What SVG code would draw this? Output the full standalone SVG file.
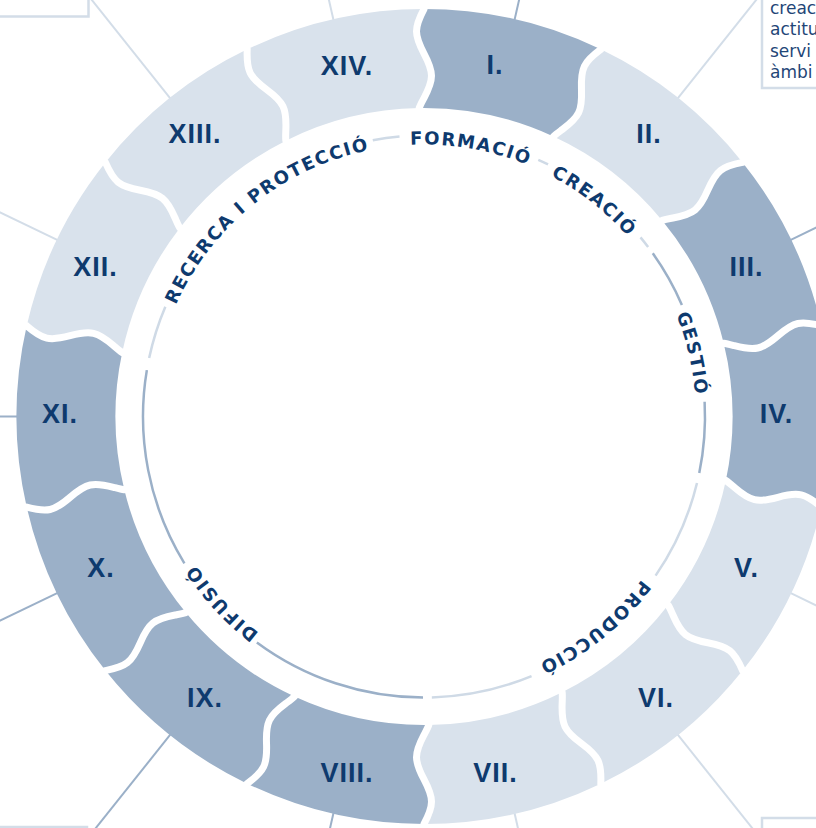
<svg xmlns="http://www.w3.org/2000/svg" width="816" height="828" viewBox="0 0 816 828">
<style>
.dk{fill:#9BB0C8}
.lt{fill:#D9E2EC}
.num{font-family:"Liberation Sans",Arial,sans-serif;font-weight:700;font-size:27px;fill:#0E3A6E;text-anchor:middle;letter-spacing:1px}
.arc{font-family:"DejaVu Sans","Liberation Sans",sans-serif;font-weight:700;font-size:18px;fill:#0E3A6E;letter-spacing:1.6px;text-anchor:middle}
.ldk{stroke:#9BB0C8;stroke-width:2;fill:none}
.llt{stroke:#D3DDE8;stroke-width:2;fill:none}
.gap{stroke:#FFFFFF;stroke-width:7;fill:none}
.tdk{stroke:#9BB0C8;stroke-width:2.5;fill:none}
.tlt{stroke:#CFDAE6;stroke-width:2.5;fill:none}
.box{stroke:#D3DDE8;stroke-width:2.5;fill:none}
.btxt{font-family:"DejaVu Sans","Liberation Sans",sans-serif;font-size:17px;fill:#1F4677}
</style>
<defs>
<path id="seg" d="M0,-407.5 A407.5,407.5 0 0 1 176.81,-367.15 C159.60,-354.46 156.67,-348.37 157.48,-327.01 C158.29,-305.64 155.36,-299.56 138.15,-286.87 C135.14,-284.65 132.04,-282.48 129.53,-280.03 A308.5,308.5 0 0 0 -4.8,-308.5 C-3.6,-311.8 -1.75,-315.1 0,-318.4 C10,-337.3 10,-344.05 0,-362.95 C-10,-381.85 -10,-388.6 0,-407.5 Z"/>
<path id="bnd" d="M0,-414 L0,-407.5 C-10,-388.6 -10,-381.85 0,-362.95 C10,-344.05 10,-337.3 0,-318.4 C-1.75,-315.1 -3.6,-311.8 -4.8,-308.5 L-5.5,-303"/>
<path id="tp" d="M424,688.5 A272,272 0 1 1 424,144.5 A272,272 0 1 1 424,688.5"/>
</defs>
<rect x="0" y="0" width="816" height="828" fill="#FFFFFF"/>

<g id="connectors">
<line class="ldk" x1="0" y1="-406" x2="0" y2="-720" transform="translate(424 416.5) rotate(12.857)"/>
<line class="llt" x1="0" y1="-406" x2="0" y2="-720" transform="translate(424 416.5) rotate(38.571)"/>
<line class="ldk" x1="0" y1="-406" x2="0" y2="-720" transform="translate(424 416.5) rotate(64.286)"/>
<line class="llt" x1="0" y1="-406" x2="0" y2="-720" transform="translate(424 416.5) rotate(115.714)"/>
<line class="llt" x1="0" y1="-406" x2="0" y2="-720" transform="translate(424 416.5) rotate(141.429)"/>
<line class="llt" x1="0" y1="-406" x2="0" y2="-720" transform="translate(424 416.5) rotate(167.143)"/>
<line class="ldk" x1="0" y1="-406" x2="0" y2="-720" transform="translate(424 416.5) rotate(192.857)"/>
<line class="ldk" x1="0" y1="-406" x2="0" y2="-720" transform="translate(424 416.5) rotate(218.571)"/>
<line class="ldk" x1="0" y1="-406" x2="0" y2="-720" transform="translate(424 416.5) rotate(244.286)"/>
<line class="ldk" x1="0" y1="-406" x2="0" y2="-720" transform="translate(424 416.5) rotate(270)"/>
<line class="llt" x1="0" y1="-406" x2="0" y2="-720" transform="translate(424 416.5) rotate(295.714)"/>
<line class="llt" x1="0" y1="-406" x2="0" y2="-720" transform="translate(424 416.5) rotate(321.429)"/>
<line class="llt" x1="0" y1="-406" x2="0" y2="-720" transform="translate(424 416.5) rotate(347.143)"/>
</g>

<g id="box-tl"><path class="box" d="M-2,16.5 H88.5 V-2"/></g>
<g id="box-tr">
<path class="box" d="M762,-2 V88 H818"/>
<text class="btxt" x="770" y="13.5">creac</text>
<text class="btxt" x="770" y="35">actitu</text>
<text class="btxt" x="770" y="56.5">servi</text>
<text class="btxt" x="770" y="78">àmbi</text>
</g>
<g id="box-bl"><path class="box" d="M-2,827 H87 V832"/></g>
<g id="box-br"><path class="box" d="M762,832 V818 H818"/></g>

<g id="n-I"><use href="#seg" class="dk" transform="translate(424 416.5) rotate(0)"/><text class="num" x="495" y="73.5">I.</text></g>
<g id="n-II"><use href="#seg" class="lt" transform="translate(424 416.5) rotate(25.7143)"/><text class="num" x="649" y="143">II.</text></g>
<g id="n-III"><use href="#seg" class="dk" transform="translate(424 416.5) rotate(51.4286)"/><text class="num" x="746.5" y="276">III.</text></g>
<g id="n-IV"><use href="#seg" class="dk" transform="translate(424 416.5) rotate(77.1429)"/><text class="num" x="776.5" y="423">IV.</text></g>
<g id="n-V"><use href="#seg" class="lt" transform="translate(424 416.5) rotate(102.857)"/><text class="num" x="746.5" y="577">V.</text></g>
<g id="n-VI"><use href="#seg" class="lt" transform="translate(424 416.5) rotate(128.571)"/><text class="num" x="656" y="707">VI.</text></g>
<g id="n-VII"><use href="#seg" class="lt" transform="translate(424 416.5) rotate(154.286)"/><text class="num" x="495.5" y="782">VII.</text></g>
<g id="n-VIII"><use href="#seg" class="dk" transform="translate(424 416.5) rotate(180)"/><text class="num" x="347" y="782">VIII.</text></g>
<g id="n-IX"><use href="#seg" class="dk" transform="translate(424 416.5) rotate(205.714)"/><text class="num" x="205" y="707">IX.</text></g>
<g id="n-X"><use href="#seg" class="dk" transform="translate(424 416.5) rotate(231.429)"/><text class="num" x="101" y="577">X.</text></g>
<g id="n-XI"><use href="#seg" class="dk" transform="translate(424 416.5) rotate(257.143)"/><text class="num" x="60" y="423">XI.</text></g>
<g id="n-XII"><use href="#seg" class="lt" transform="translate(424 416.5) rotate(282.857)"/><text class="num" x="95.5" y="276">XII.</text></g>
<g id="n-XIII"><use href="#seg" class="lt" transform="translate(424 416.5) rotate(308.571)"/><text class="num" x="195" y="143">XIII.</text></g>
<g id="n-XIV"><use href="#seg" class="lt" transform="translate(424 416.5) rotate(334.286)"/><text class="num" x="347" y="74.5">XIV.</text></g>

<g id="gaps">
<use href="#bnd" class="gap" transform="translate(424 416.5) rotate(0)"/>
<use href="#bnd" class="gap" transform="translate(424 416.5) rotate(25.7143)"/>
<use href="#bnd" class="gap" transform="translate(424 416.5) rotate(51.4286)"/>
<use href="#bnd" class="gap" transform="translate(424 416.5) rotate(77.1429)"/>
<use href="#bnd" class="gap" transform="translate(424 416.5) rotate(102.857)"/>
<use href="#bnd" class="gap" transform="translate(424 416.5) rotate(128.571)"/>
<use href="#bnd" class="gap" transform="translate(424 416.5) rotate(154.286)"/>
<use href="#bnd" class="gap" transform="translate(424 416.5) rotate(180)"/>
<use href="#bnd" class="gap" transform="translate(424 416.5) rotate(205.714)"/>
<use href="#bnd" class="gap" transform="translate(424 416.5) rotate(231.429)"/>
<use href="#bnd" class="gap" transform="translate(424 416.5) rotate(257.143)"/>
<use href="#bnd" class="gap" transform="translate(424 416.5) rotate(282.857)"/>
<use href="#bnd" class="gap" transform="translate(424 416.5) rotate(308.571)"/>
<use href="#bnd" class="gap" transform="translate(424 416.5) rotate(334.286)"/>
</g>

<g id="inner-ring">
<path class="tlt" d="M372.79,140.21 A281,281 0 0 1 399.51,136.57"/>
<path class="tlt" d="M538.29,159.79 A281,281 0 0 1 548.06,164.37"/>
<path class="tlt" d="M640.51,237.38 A281,281 0 0 1 648.12,247.00"/>
<path class="tdk" d="M652.77,253.32 A281,281 0 0 1 681.89,304.90"/>
<path class="tdk" d="M704.62,401.79 A281,281 0 0 1 699.26,473.00"/>
<path class="tlt" d="M697.01,483.05 A281,281 0 0 1 655.58,575.66"/>
<path class="tlt" d="M531.53,676.11 A281,281 0 0 1 431.85,697.39"/>
<path class="tdk" d="M423.02,697.50 A281,281 0 0 1 256.86,642.38"/>
<path class="tdk" d="M184.41,563.32 A281,281 0 0 1 146.85,370.12"/>
<path class="tlt" d="M149.14,358.08 A281,281 0 0 1 165.34,306.70"/>
</g>

<g id="phases">
<text class="arc"><textPath href="#tp" startOffset="670.8">RECERCA I PROTECCIÓ</textPath></text>
<text class="arc"><textPath href="#tp" startOffset="901">FORMACIÓ</textPath></text>
<text class="arc"><textPath href="#tp" startOffset="1035.9">CREACIÓ</textPath></text>
<text class="arc"><textPath href="#tp" startOffset="1218.6">GESTIÓ</textPath></text>
<text class="arc"><textPath href="#tp" startOffset="1523.4">PRODUCCIÓ</textPath></text>
<text class="arc"><textPath href="#tp" startOffset="224.5">DIFUSIÓ</textPath></text>
</g>
</svg>
